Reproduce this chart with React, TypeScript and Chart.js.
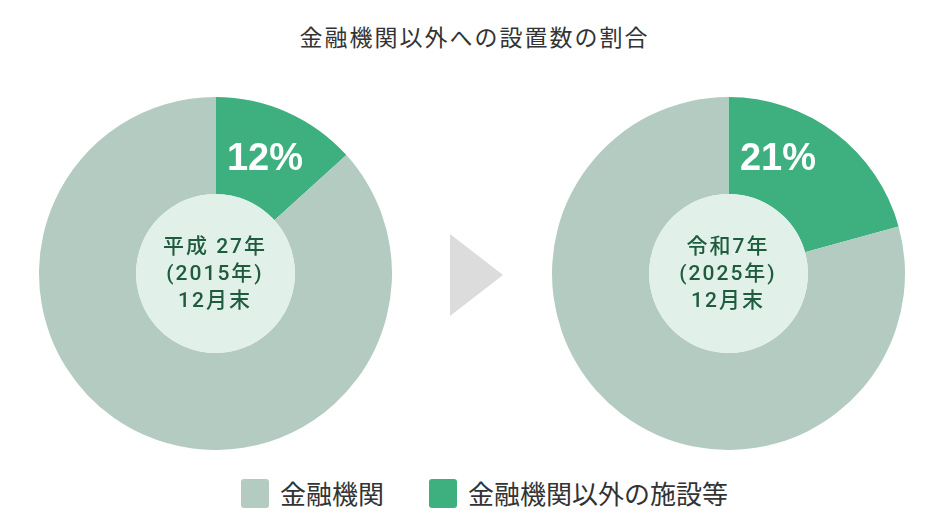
import { useRef, useEffect } from 'react'
import { Chart, ArcElement, DoughnutController, Plugin } from 'chart.js'

Chart.register(ArcElement, DoughnutController)

// categories (legend order) and per-period shares
const CATEGORIES = ['金融機関', '金融機関以外の施設等']
const COLORS = ['#b4cbc1', '#3eb080']
const PERIOD_LABELS = [
  ['平成 27年', '(2015年)', '12月末'],
  ['令和7年', '(2025年)', '12月末'],
]
const OTHER_SHARE = [13.3, 20.7]       // 金融機関以外の施設等 (slice angle)
const BANK_SHARE = [86.7, 79.3]        // 金融機関
const SHARE_LABELS = ['12%', '21%']

const TITLE = '金融機関以外への設置数の割合'
const INNER_FILL = '#e1f0e9'
const JP = '"Noto Sans CJK JP", "Noto Sans", sans-serif'

// fills the doughnut hole so the centre reads as a pale disc
const innerDisc: Plugin<'doughnut'> = {
  id: 'innerDisc',
  afterDatasetsDraw(chart) {
    const arc: any = chart.getDatasetMeta(0).data[0]
    if (!arc) return
    const { ctx } = chart
    ctx.save()
    ctx.beginPath()
    ctx.arc(arc.x, arc.y, arc.innerRadius, 0, Math.PI * 2)
    ctx.fillStyle = INNER_FILL
    ctx.fill()
    ctx.restore()
  },
}

function Pie({ idx, left }: { idx: number; left: number }) {
  const canvasRef = useRef<HTMLCanvasElement>(null)

  useEffect(() => {
    if (!canvasRef.current) return
    const chart = new Chart(canvasRef.current, {
      type: 'doughnut',
      data: {
        labels: [CATEGORIES[1], CATEGORIES[0]],
        datasets: [{
          data: [OTHER_SHARE[idx], BANK_SHARE[idx]],
          backgroundColor: [COLORS[1], COLORS[0]],
          borderWidth: 0,
        }],
      },
      options: {
        responsive: true,
        maintainAspectRatio: false,
        animation: false,
        cutout: '45%',
        layout: { padding: 0 },
        plugins: { legend: { display: false }, tooltip: { enabled: false } },
      },
      plugins: [innerDisc],
    })
    return () => { chart.destroy() }
  }, [idx])

  return (
    <>
      <div style={{ position: 'absolute', left, top: 97, width: 353, height: 353 }}>
        <canvas ref={canvasRef} />
      </div>
      {/* percentage in the green slice */}
      <div
        style={{
          position: 'absolute',
          left: left + 226 - 60,
          top: 134,
          width: 120,
          textAlign: 'center',
          fontFamily: '"Liberation Sans", Arial, sans-serif',
          fontWeight: 700,
          fontSize: 38,
          color: '#ffffff',
          lineHeight: '46px',
        }}
      >
        {SHARE_LABELS[idx]}
      </div>
      {/* period label in the centre */}
      <div
        style={{
          position: 'absolute',
          left: left + 176 - 80,
          top: 233,
          width: 160,
          textAlign: 'center',
          fontFamily: 'Roboto, ' + JP,
          fontWeight: 500,
          fontSize: 21,
          letterSpacing: '2px',
          lineHeight: '27px',
          color: '#1f5c3e',
        }}
      >
        {PERIOD_LABELS[idx].map(l => <div key={l}>{l}</div>)}
      </div>
    </>
  )
}

export default function App() {
  return (
    <div
      style={{
        position: 'fixed',
        left: 0,
        top: 0,
        width: 949,
        height: 525,
        background: '#ffffff',
        overflow: 'hidden',
      }}
    >
      <div
        style={{
          position: 'absolute',
          left: 0,
          top: 20,
          width: 949,
          textAlign: 'center',
          fontFamily: JP,
          fontSize: 23,
          letterSpacing: '2px',
          color: '#333333',
          lineHeight: '32px',
        }}
      >
        {TITLE}
      </div>

      <Pie idx={0} left={39} />
      <Pie idx={1} left={552} />

      {/* arrow between the two periods */}
      <div
        style={{
          position: 'absolute',
          left: 450,
          top: 234,
          width: 0,
          height: 0,
          borderTop: '41px solid transparent',
          borderBottom: '41px solid transparent',
          borderLeft: '53px solid #dcdcdc',
        }}
      />

      {/* legend */}
      <div
        style={{
          position: 'absolute',
          left: 241,
          top: 474,
          display: 'flex',
          alignItems: 'center',
          fontFamily: JP,
          fontSize: 26,
          color: '#333333',
          lineHeight: '38px',
        }}
      >
        {CATEGORIES.map((c, i) => (
          <div key={c} style={{ display: 'flex', alignItems: 'center', marginRight: i === 0 ? 45 : 0 }}>
            <span
              style={{
                width: 28,
                height: 29,
                borderRadius: 3,
                background: COLORS[i],
                display: 'inline-block',
                marginRight: 11,
              }}
            />
            <span>{c}</span>
          </div>
        ))}
      </div>
    </div>
  )
}
